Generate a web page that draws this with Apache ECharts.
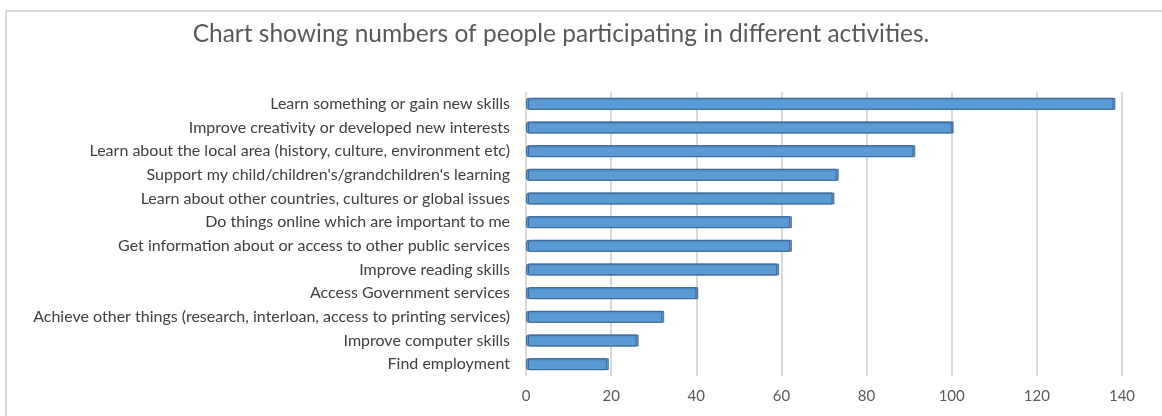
<!DOCTYPE html>
<html lang="en">
<head>
    <meta charset="UTF-8">
    <title>Activities chart</title>
    <script src="https://cdn.jsdelivr.net/npm/echarts@6/dist/echarts.min.js"></script>
    <style>
        html, body { margin: 0; padding: 0; background: #fff; }
        #frame {
            position: absolute; left: 5px; top: 10px; width: 1170px; height: 420px;
            border-top: 2px solid #d9d9d9; border-left: 2px solid #d9d9d9;
        }
        #chart { position: absolute; left: 0; top: 0; width: 1162px; height: 416px; }
    </style>
</head>
<body>
<div id="frame"></div>
<div id="chart"></div>
<script>
// categories listed bottom to top (category axis on y starts at the bottom)
var activities = [
    'Find employment',
    'Improve computer skills',
    'Achieve other things (research, interloan, access to printing services)',
    'Access Government services',
    'Improve reading skills',
    'Get information about or access to other public services',
    'Do things online which are important to me',
    'Learn about other countries, cultures or global issues',
    "Support my child/children's/grandchildren's learning",
    'Learn about the local area (history, culture, environment etc)',
    'Improve creativity or developed new interests',
    'Learn something or gain new skills'
];
var participants = [19, 26, 32, 40, 59, 62, 62, 72, 73, 91, 100, 138];

var myChart = echarts.init(document.getElementById('chart'));
var option = {
    animation: false,
    title: {
        text: 'Chart showing numbers of people participating in different activities.',
        left: 556,
        textAlign: 'center',
        top: 17,
        textStyle: {
            fontFamily: 'Lato',
            fontSize: 24.5,
            fontWeight: 'normal',
            color: '#595959'
        }
    },
    grid: {
        left: 526,
        right: 40,
        top: 92,
        bottom: 40
    },
    xAxis: {
        type: 'value',
        min: 0,
        max: 140,
        interval: 20,
        axisLine: { show: false },
        axisTick: { show: false },
        axisLabel: {
            margin: 13,
            fontFamily: 'Lato',
            fontSize: 15,
            color: '#595959'
        },
        splitLine: {
            lineStyle: { color: '#d9d9d9', width: 2 }
        }
    },
    yAxis: {
        type: 'category',
        data: activities,
        axisLine: { show: false },
        axisTick: { show: false },
        axisLabel: {
            margin: 16,
            fontFamily: 'Lato',
            fontSize: 16,
            color: '#404040'
        }
    },
    series: [
        {
            type: 'bar',
            data: participants,
            barWidth: 12,
            itemStyle: {
                color: {
                    type: 'linear', x: 0, y: 0, x2: 0, y2: 1,
                    colorStops: [
                        { offset: 0, color: '#4a84bd' },
                        { offset: 0.3, color: '#5b9bd5' },
                        { offset: 1, color: '#5b9bd5' }
                    ]
                },
                borderColor: '#3f6f9e',
                borderWidth: 1,
                borderRadius: [2, 0, 0, 2],
                shadowColor: 'rgba(40,70,110,0.6)',
                shadowOffsetX: 2,
                shadowOffsetY: 0
            }
        }
    ]
};
myChart.setOption(option);
</script>
</body>
</html>
